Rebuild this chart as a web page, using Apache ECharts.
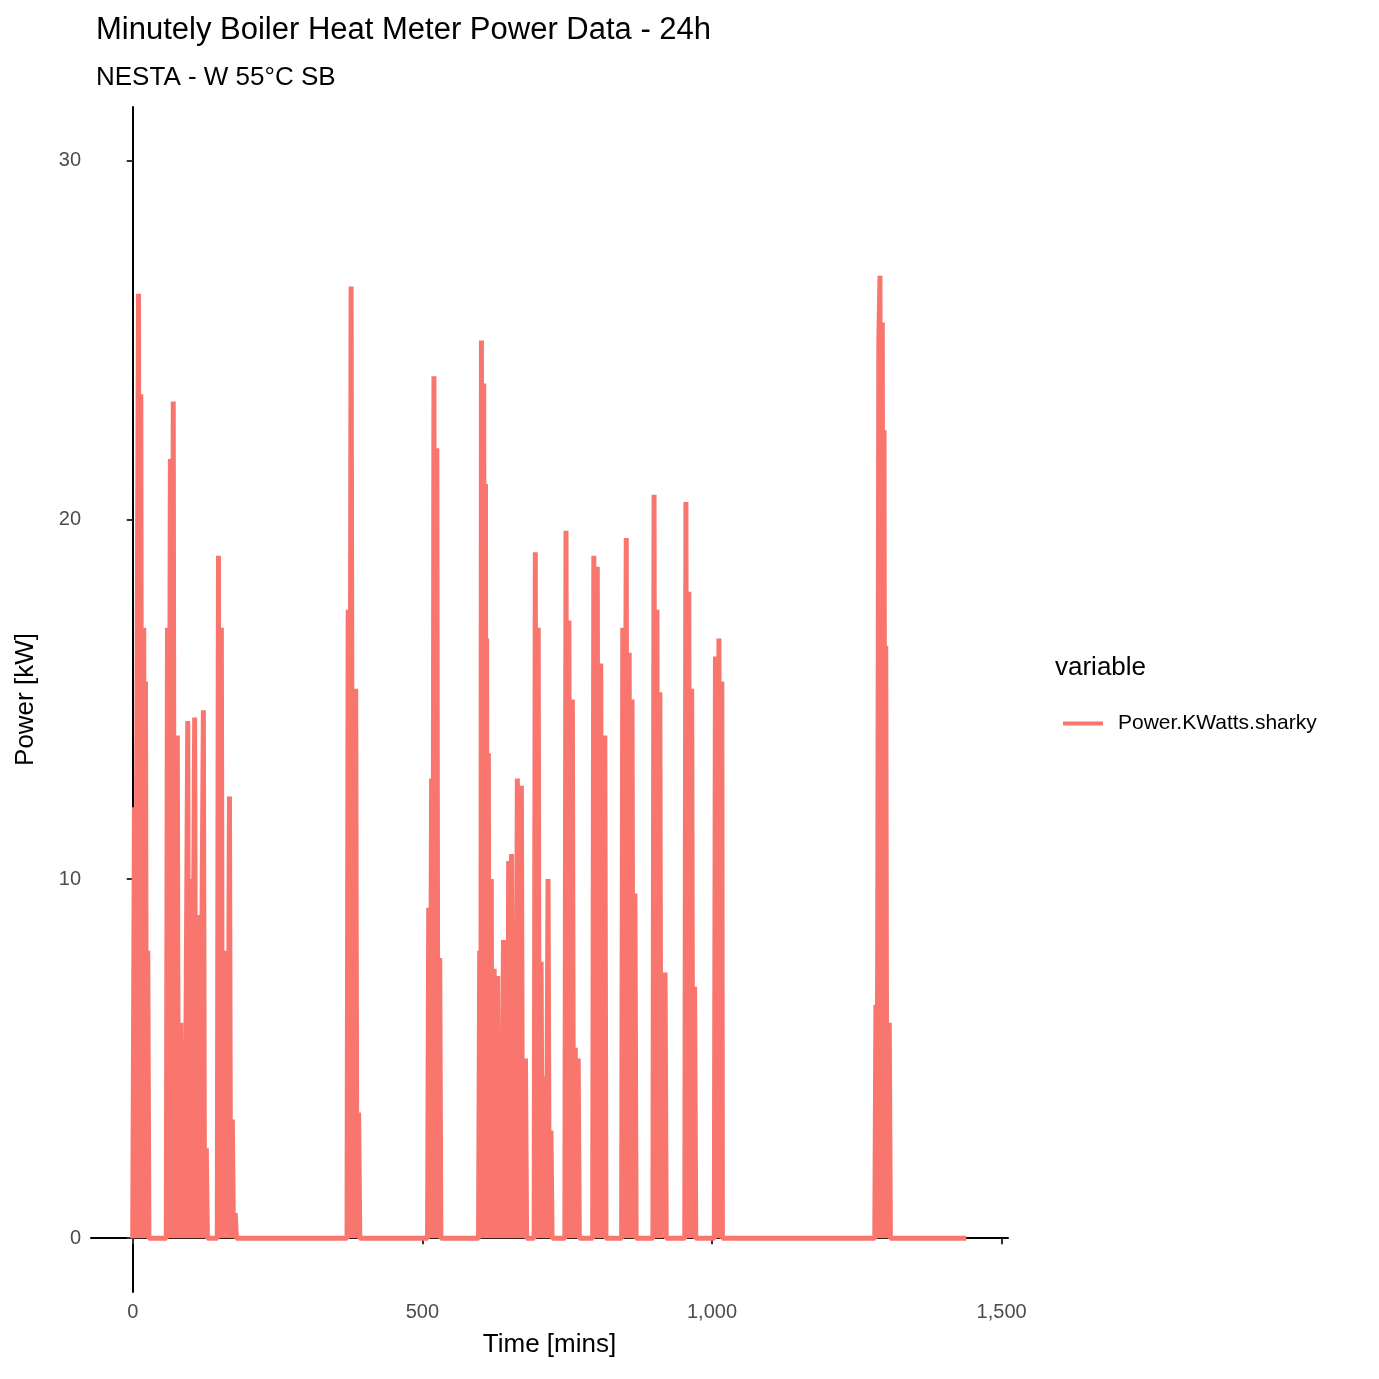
<!DOCTYPE html>
<html><head><meta charset="utf-8">
<script src="https://cdn.jsdelivr.net/npm/echarts@6/dist/echarts.min.js"></script>
<style>html,body{margin:0;background:#fff}#c{width:1379px;height:1379px}</style></head>
<body><div id="c"></div>
<script>
const minutes = [0,3,4,10,12,14,16,19,21,22,24,26,28,
 58,60,62,65,67,70,72,77,79,83,85,88,90,95,97,100,102,107,109,114,116,122,124,127,129,
 146,148,150,153,155,162,164,167,169,172,174,177,179,
 370,372,374,377,380,385,387,390,392,
 509,511,513,516,518,520,522,525,527,530,532,
 597,599,601,602,604,606,607,609,610,611,612,614,615,619,620,624,626,630,632,635,637,640,642,645,647,649,651,654,656,659,661,664,666,671,673,678,680,
 693,695,697,700,702,705,707,712,714,717,719,722,724,
 746,748,750,753,755,759,761,764,766,769,771,
 794,796,798,802,804,808,810,815,817,
 844,846,848,852,854,857,859,862,864,867,869,
 898,900,902,905,907,910,912,919,921,
 953,955,957,960,962,965,967,970,972,
 1004,1006,1008,1012,1015,1017,1018,1020,1022,
 1281,1283,1284,1286,1288,1290,1292,1294,1296,1297,1299,1300,1302,1306,1308,
 1439];
const powerKW = [0,12,0,26.3,0,23.5,0,17,0,15.5,0,8,0,
 0,17,0,21.7,0,23.3,0,14,0,6,0,5,0,14.4,0,10,0,14.5,0,9,0,14.7,0,2.5,0,
 0,19,0,17,0,8,0,12.3,0,3.3,0,0.7,0,
 0,17.5,0,26.5,0,15.3,0,3.5,0,
 0,9.2,0,12.8,0,24,0,22,0,7.8,0,
 0,8,0,25,0,23.8,0,21,0,16.7,0,13.5,0,10,0,7.5,0,7.3,0,5.8,0,8.3,0,7,0,10.5,0,10.7,0,7,0,12.8,0,12.6,0,5,0,
 0,19.1,0,17,0,7.7,0,4.5,0,10,0,3,0,
 0,19.7,0,17.2,0,15,0,5.3,0,5,0,
 0,19,0,18.7,0,16,0,14,0,
 0,17,0,19.5,0,16.3,0,15,0,9.6,0,
 0,20.7,0,17.5,0,15.2,0,7.4,0,
 0,20.5,0,18,0,15.3,0,7,0,
 0,16.2,0,16.7,0,15.5,0,0,0,
 0,6.5,0,7.7,25,26.8,0,25.5,0,22.5,0,16.5,0,6,0,
 0];
const seriesName = 'Power.KWatts.sharky';
const chart = echarts.init(document.getElementById('c'));
const lab = {color:'#4d4d4d',fontSize:20,fontFamily:'Liberation Sans'};
chart.setOption({
 animation:false,
 title:[{text:'Minutely Boiler Heat Meter Power Data - 24h',left:91,top:10,textStyle:{fontSize:31,fontWeight:'normal',color:'#000',fontFamily:'Liberation Sans'}},
        {text:'NESTA - W 55°C SB',left:91,top:60,textStyle:{fontSize:26,fontWeight:'normal',color:'#000',fontFamily:'Liberation Sans'}}],
 grid:{left:91,top:107,width:917,height:1185},
 graphic:[{type:'text',left:1055,top:655,style:{text:'variable',fontSize:26,fill:'#000',fontFamily:'Liberation Sans'}}],
 legend:{left:1058,top:708,itemWidth:40,itemHeight:4,icon:'rect',textStyle:{fontSize:21,color:'#000',fontFamily:'Liberation Sans',padding:[0,0,0,10]},data:[seriesName]},
 xAxis:{type:'value',min:-72,max:1511,interval:500,name:'Time [mins]',nameLocation:'middle',nameGap:40,
   nameTextStyle:{fontSize:26,color:'#000',fontFamily:'Liberation Sans'},
   axisLine:{lineStyle:{color:'#000',width:2}},axisTick:{length:6,lineStyle:{color:'#333',width:2}},
   axisLabel:Object.assign({margin:10,customValues:[0,500,1000,1500]},lab),splitLine:{show:false},
   axisTick:{customValues:[0,500,1000,1500],length:6,lineStyle:{color:'#333',width:2}}},
 yAxis:{type:'value',min:-1.5,max:31.5,name:'Power [kW]',nameLocation:'middle',nameGap:52,
   nameTextStyle:{fontSize:26,color:'#000',fontFamily:'Liberation Sans'},
   axisLine:{show:true,lineStyle:{color:'#000',width:2}},
   axisTick:{show:true,customValues:[0,10,20,30],length:6,lineStyle:{color:'#333',width:2}},
   axisLabel:Object.assign({customValues:[0,10,20,30],margin:10},lab),splitLine:{show:false}},
 series:[{name:seriesName,type:'line',showSymbol:false,symbol:'none',
   data:minutes.map((m,i)=>[m,powerKW[i]]),lineStyle:{color:'#F8766D',width:5},itemStyle:{color:'#F8766D'}}]
});
</script></body></html>
